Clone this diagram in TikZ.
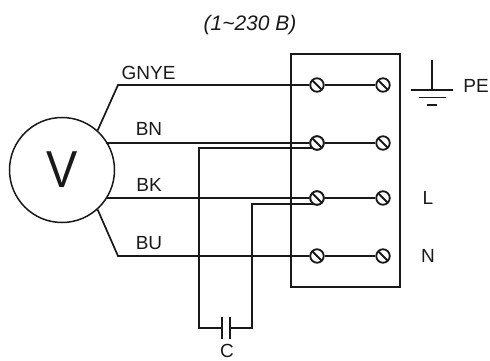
\documentclass[tikz,border=0pt]{standalone}
\usepackage{fontspec}
\setmainfont{Liberation Sans}
\tikzset{
  wire/.style={draw=black!90,line width=1.7pt},
  boxline/.style={draw=black!90,line width=1.7pt},
  term/.style={circle,draw=black!90,line width=1.8pt,fill=white,minimum size=13.5pt,inner sep=0pt,
    path picture={\draw[black!90,line width=1.8pt] (path picture bounding box.north west)++(2.5pt,-2.5pt) -- ([shift={(-2.5pt,2.5pt)}]path picture bounding box.south east);}},
  lab/.style={inner sep=0pt,text=black!90,font=\fontsize{19}{19}\selectfont},
}
\begin{document}
\begin{tikzpicture}[x=1pt,y=-1pt]
\useasboundingbox (0,0) rectangle (490,361);
\node[lab,font=\itshape\fontsize{21}{21}\selectfont] (title) at (250,25) {(1\textasciitilde230 B)};
% terminal block
\draw[boxline] (291,54) rectangle (400,287);
% motor
\node[circle,draw=black!90,line width=1.5pt,minimum size=105pt,inner sep=0pt,text=black!90,font=\fontsize{52}{52}\selectfont] (motor) at (62,170) {\scalebox{.9}[1]{V}};
% terminals
\foreach \n/\y in {1/85,2/143,3/198,4/256}{
  \node[term] (a\n) at (317,\y) {};
  \node[term] (b\n) at (383,\y) {};
  \draw[wire] (a\n) -- (b\n);
}
% wires from motor
\coordinate (g1) at (118,85);
\coordinate (g2) at (118,256);
\coordinate (m2) at (106,143);
\coordinate (m3) at (106,198);
\draw[wire] (motor.48) -- (g1) -- (a1);
\draw[wire] (motor.-48) -- (g2) -- (a4);
\draw[wire] (m2) -- (a2);
\draw[wire] (m3) -- (a3);
% capacitor
\coordinate (l1) at (199,148);
\coordinate (l2) at (199,328);
\coordinate (r1) at (252,204);
\coordinate (r2) at (252,328);
\coordinate (pl) at (222,328);
\coordinate (pr) at (230,328);
\coordinate (t2) at (314,148);
\coordinate (t3) at (314,204);
\draw[wire] (t2) -- (l1) -- (l2) -- (pl);
\draw[wire] (t3) -- (r1) -- (r2) -- (pr);
\draw[wire] ([yshift=-11pt]pl) -- ([yshift=11pt]pl);
\draw[wire] ([yshift=-11pt]pr) -- ([yshift=11pt]pr);
\node[lab] (c) at (227,351) {C};
% redraw terminals on top
\foreach \n/\y in {2/143,3/198}{ \node[term] at (317,\y) {}; }
% ground
\coordinate (e0) at (432,60);
\coordinate (e1) at (432,90);
\draw[wire] (e0) -- (e1);
\draw[wire] (411,90) -- (453,90);
\draw[wire] (419,97.5) -- (446,97.5);
\draw[wire] (427,105) -- (437,105);
% labels
\node[lab] (gnye) at (148.5,73) {GNYE};
\node[lab] (bn) at (149,129) {BN};
\node[lab] (bk) at (149,185) {BK};
\node[lab] (bu) at (149,243) {BU};
\node[lab] (pe) at (476,86) {PE};
\node[lab] (ll) at (428,198) {L};
\node[lab] (nn) at (428,256) {N};
\end{tikzpicture}
\end{document}
